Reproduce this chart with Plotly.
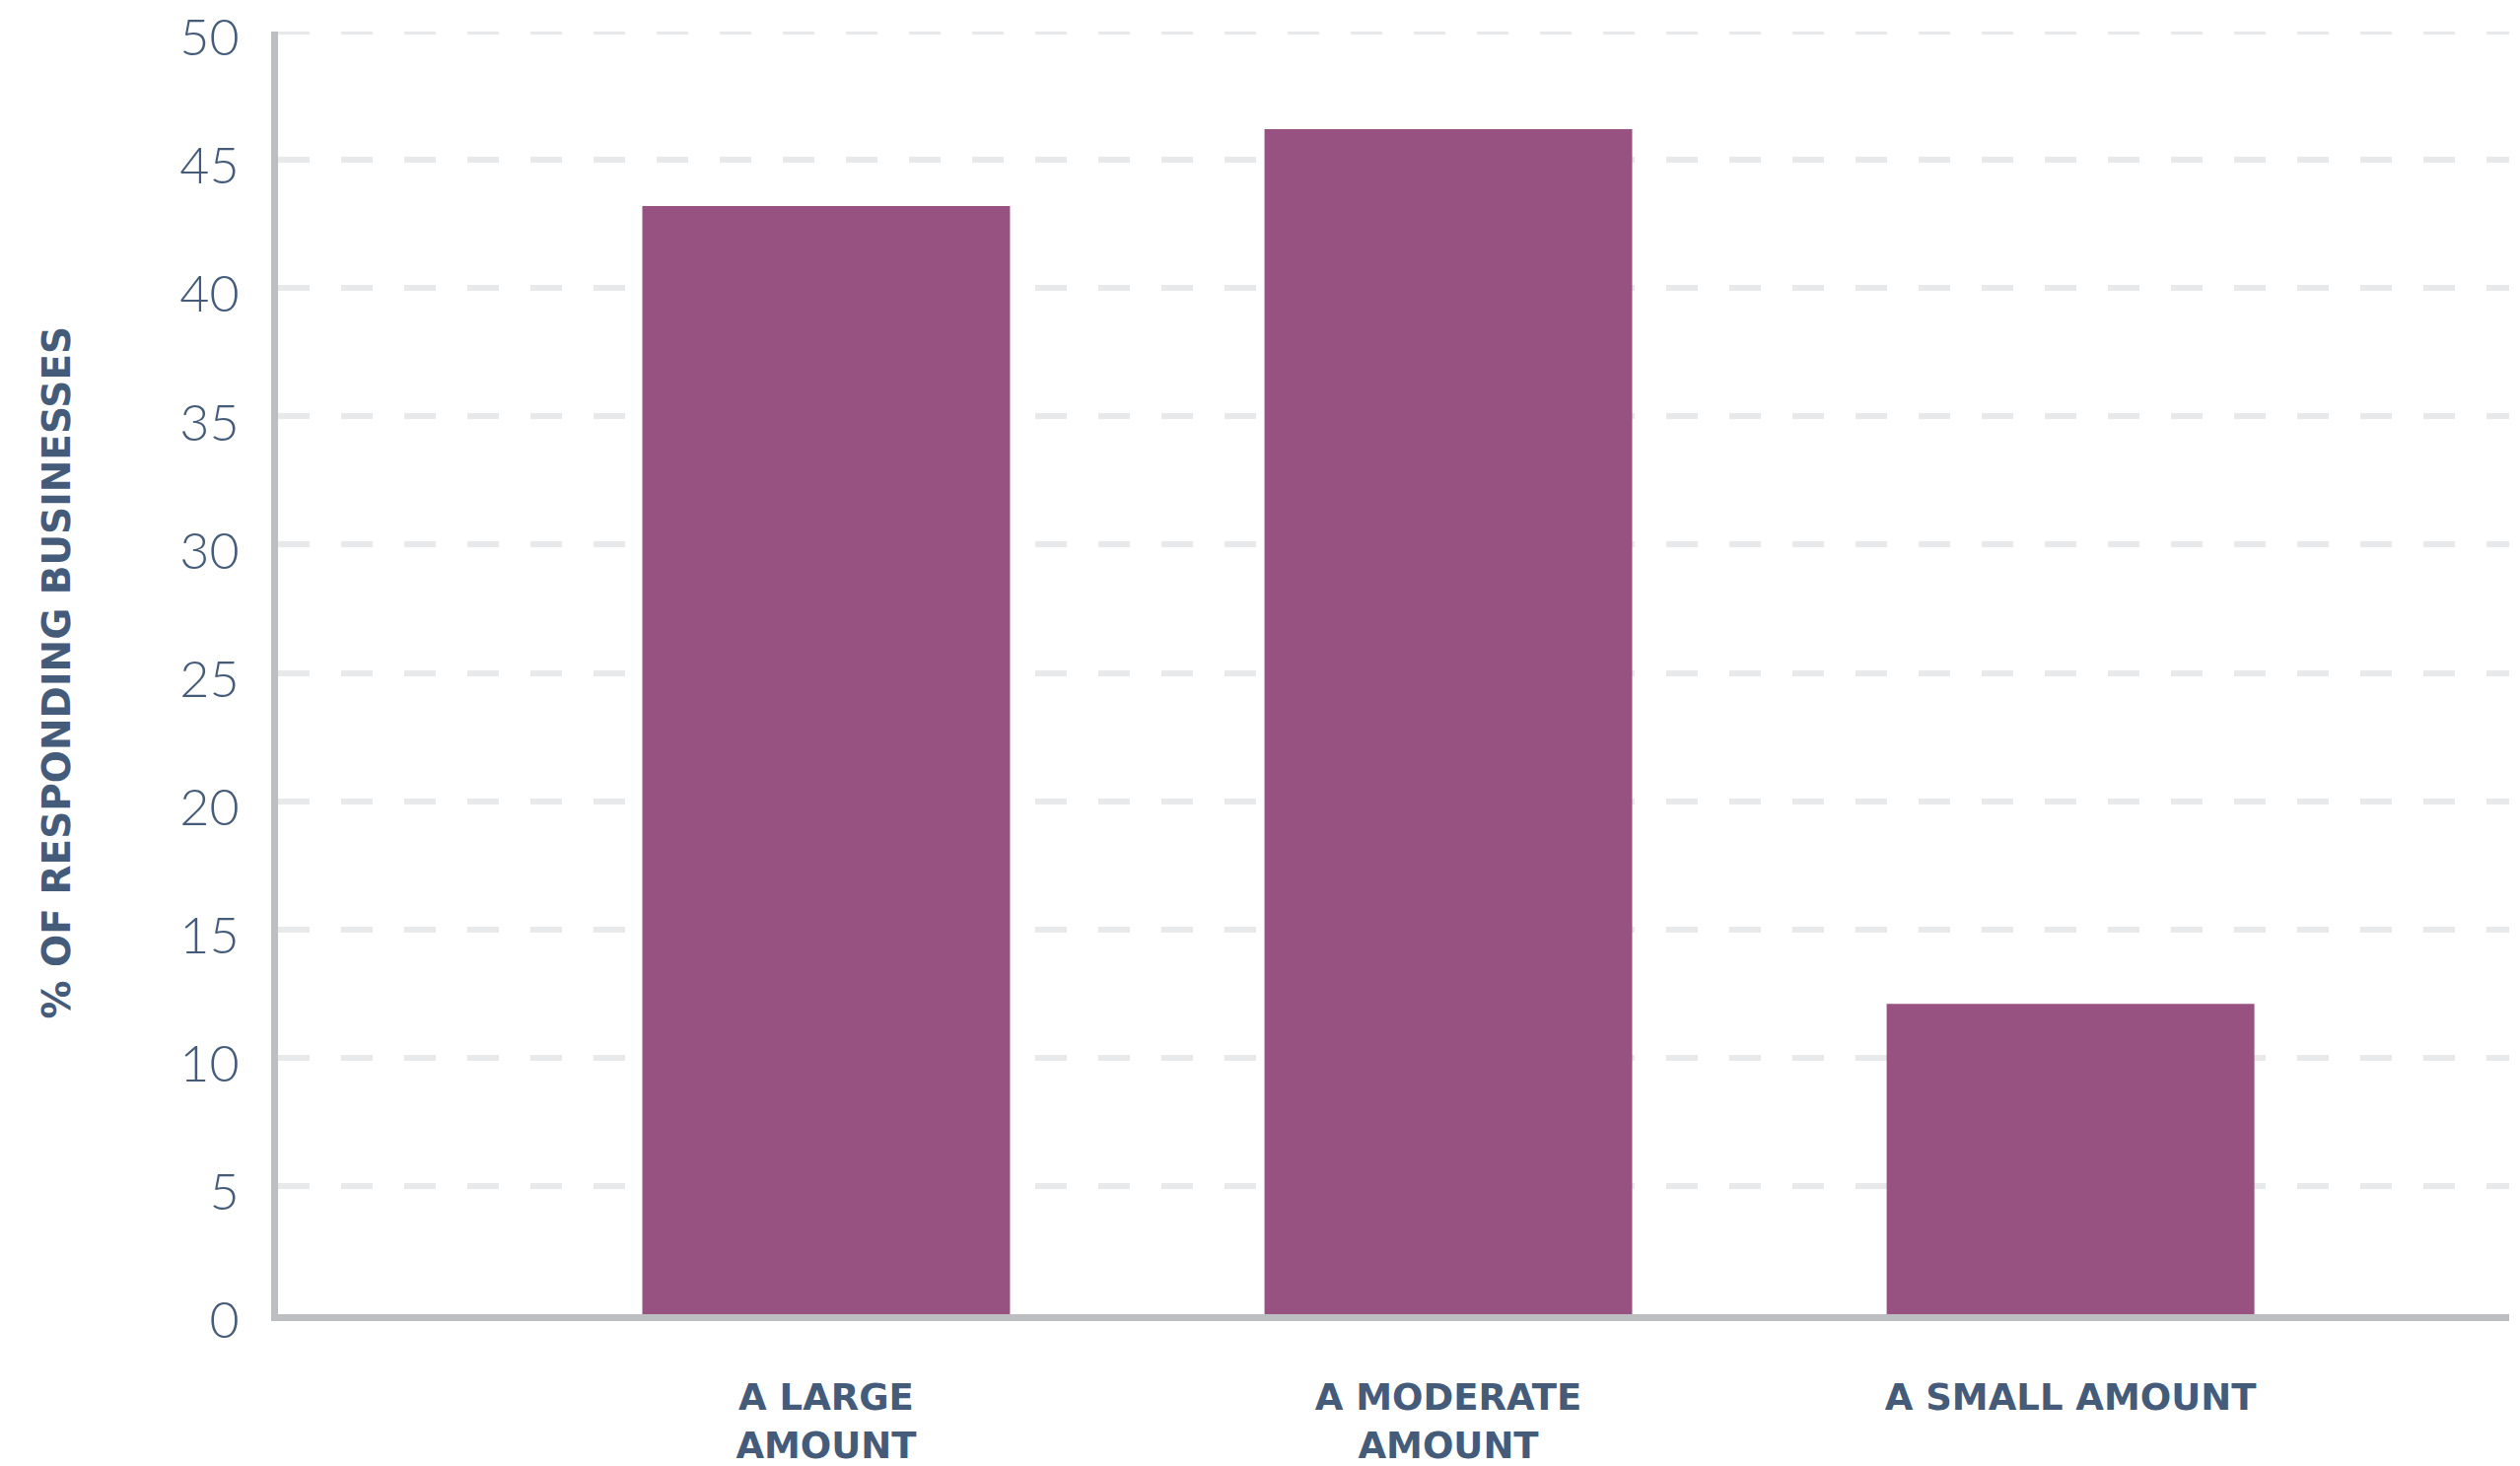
import plotly.graph_objects as go

categories = ["A LARGE<br>AMOUNT", "A MODERATE<br>AMOUNT", "A SMALL AMOUNT"]
values = [43.2, 46.2, 12.1]
y_ticks = [0, 5, 10, 15, 20, 25, 30, 35, 40, 45, 50]
y_title = "% OF RESPONDING BUSINESSES"

TEXT = "#455b7a"
AXIS = "#bdbec2"
GRID = "#e8e9eb"
BAR = "#985282"

fig = go.Figure()
fig.add_trace(go.Bar(
    x=categories, y=values, width=0.591,
    marker=dict(color=BAR, line=dict(width=0)),
    hoverinfo="skip",
))

fig.update_layout(
    width=2556, height=1487,
    margin=dict(l=282, r=11, t=32, b=154, pad=0),
    paper_bgcolor="white", plot_bgcolor="white",
    showlegend=False,
    xaxis=dict(
        type="category",
        range=[-0.881, 2.705],
        automargin=False,
        showgrid=False, zeroline=False,
        showline=True, linecolor=AXIS, linewidth=7,
        ticks="outside", ticklen=46, tickcolor="rgba(0,0,0,0)",
        ticklabeloverflow="allow",
        tickfont=dict(family="DejaVu Sans", size=37, color=TEXT, weight="bold"),
    ),
    yaxis=dict(
        range=[0, 50],
        automargin=False,
        tickvals=y_ticks,
        showgrid=True, gridcolor=GRID, gridwidth=6, griddash="32px,32px",
        zeroline=False,
        showline=True, linecolor=AXIS, linewidth=7,
        ticks="outside", ticklen=22, tickcolor="rgba(0,0,0,0)",
        ticklabeloverflow="allow", ticklabelshift=6,
        tickfont=dict(family="Lato", size=52, color=TEXT, weight=300),
    ),
    shapes=[dict(
        type="line", xref="paper", yref="y", x0=0, x1=1, y0=y_ticks[-1], y1=y_ticks[-1],
        line=dict(color=GRID, width=6, dash="32px,32px"), layer="below",
    )],
    annotations=[dict(
        text=y_title, xref="paper", yref="paper",
        x=-0.0994, y=0.5, xanchor="center", yanchor="middle",
        textangle=-90, showarrow=False,
        font=dict(family="DejaVu Sans", size=39, color=TEXT, weight="bold"),
    )],
)

fig.write_html("out.html")
